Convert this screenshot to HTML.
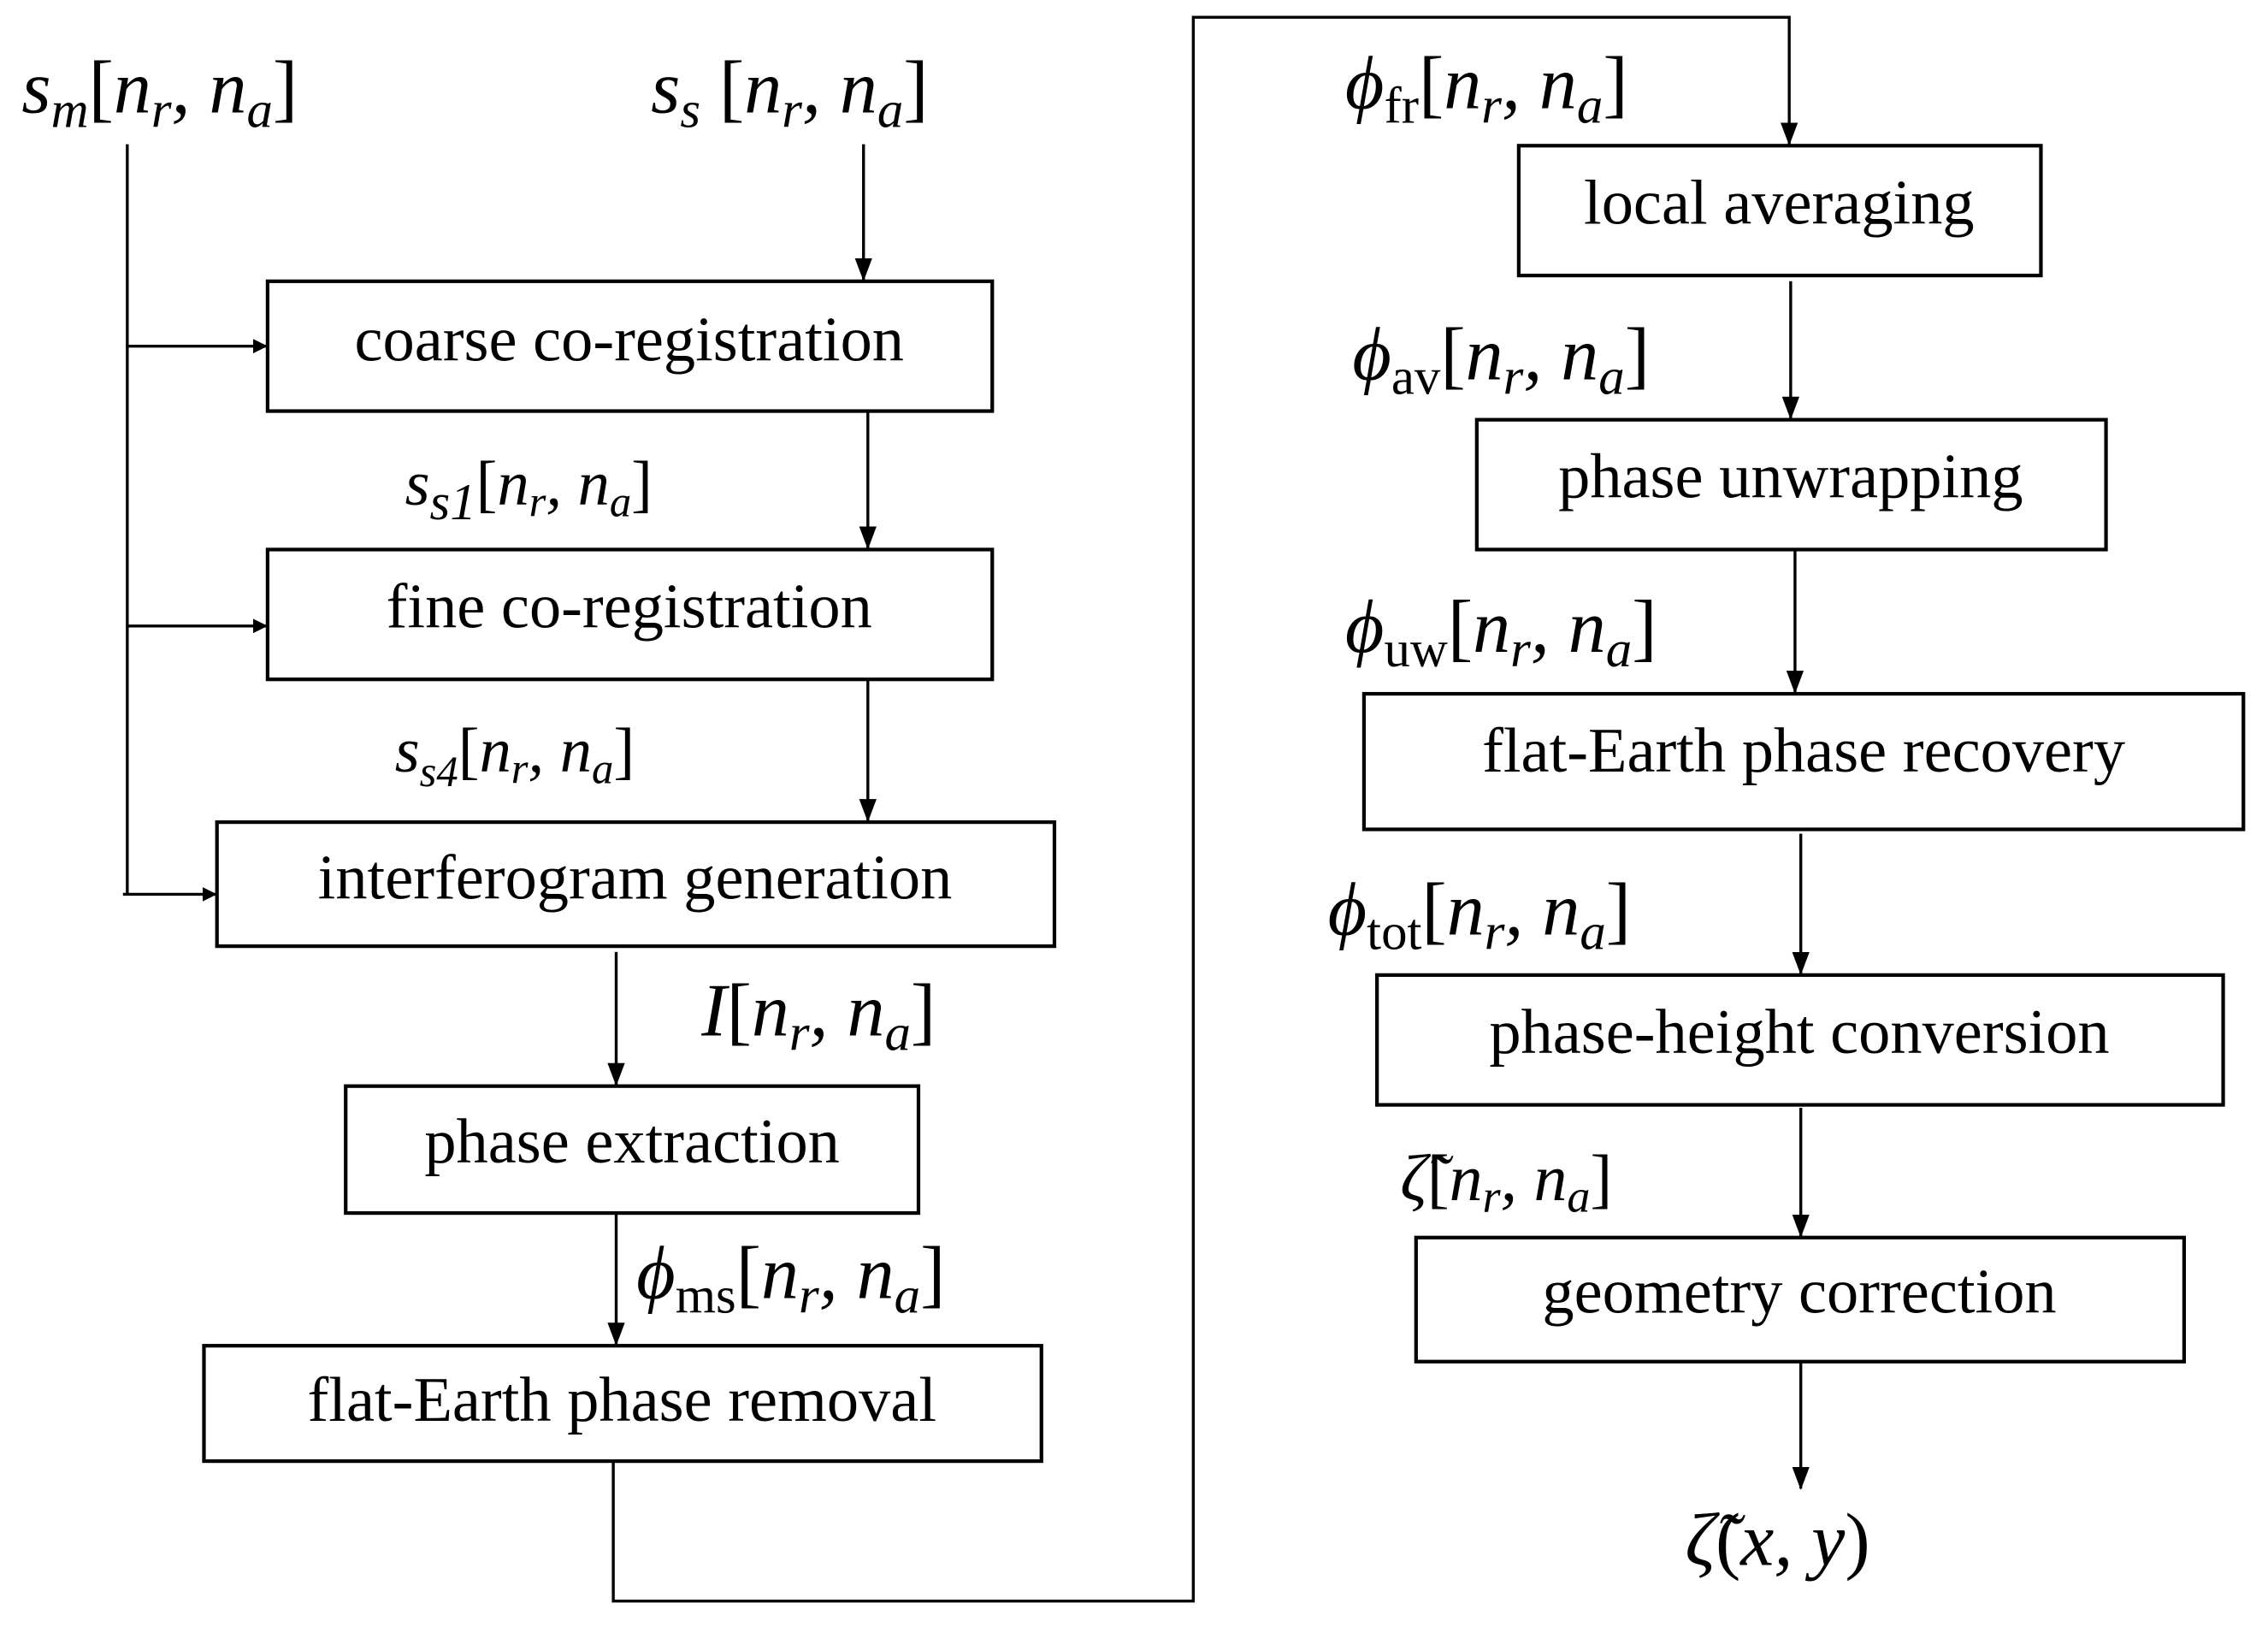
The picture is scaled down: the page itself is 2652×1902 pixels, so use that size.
<!DOCTYPE html>
<html><head><meta charset="utf-8"><style>
html,body{margin:0;padding:0;background:#fff}
svg{display:block}
.b{font-family:"Liberation Serif",serif;font-size:44px;fill:#000}
.m{font-family:"Liberation Serif",serif;font-style:italic;font-size:52px;fill:#000}
.s{font-size:36px}
</style></head><body>
<svg width="2652" height="1902" viewBox="0 0 1568 1128" preserveAspectRatio="none" xmlns="http://www.w3.org/2000/svg">
<defs><marker id="a" markerWidth="10" markerHeight="10" refX="9" refY="5" orient="auto" markerUnits="userSpaceOnUse"><path d="M0,0 L10,5 L0,10 z" fill="#000"/></marker>
<marker id="d" markerWidth="12" markerHeight="16" refX="6" refY="15" orient="0" markerUnits="userSpaceOnUse"><path d="M0,0 L12,0 L6,16 z" fill="#000"/></marker></defs>
<g fill="none" stroke="#000" stroke-width="2.5">
<rect x="185" y="195" width="501" height="90"/>
<rect x="185" y="381" width="501" height="90"/>
<rect x="150" y="570" width="579" height="86"/>
<rect x="239" y="753" width="396" height="88"/>
<rect x="141" y="933" width="579" height="80"/>
<rect x="1050" y="101" width="361" height="90"/>
<rect x="1021" y="291" width="435" height="90"/>
<rect x="943" y="481" width="608" height="94"/>
<rect x="952" y="676" width="585" height="90"/>
<rect x="979" y="858" width="531" height="86"/>
</g>
<g fill="none" stroke="#000" stroke-width="2">
<line x1="88" y1="100" x2="88" y2="620"/>
<line x1="88" y1="240" x2="184" y2="240" marker-end="url(#a)"/>
<line x1="88" y1="434" x2="184" y2="434" marker-end="url(#a)"/>
<line x1="85" y1="620" x2="149" y2="620" marker-end="url(#a)"/>
<line x1="597" y1="100" x2="597" y2="194" marker-end="url(#d)"/>
<line x1="600" y1="285" x2="600" y2="380" marker-end="url(#d)"/>
<line x1="600" y1="471" x2="600" y2="569" marker-end="url(#d)"/>
<line x1="426" y1="660" x2="426" y2="752" marker-end="url(#d)"/>
<line x1="426" y1="841" x2="426" y2="932" marker-end="url(#d)"/>
<polyline points="424,1013 424,1110 825,1110 825,12 1237,12 1237,100" marker-end="url(#d)"/>
<line x1="1238" y1="195" x2="1238" y2="290" marker-end="url(#d)"/>
<line x1="1241" y1="381" x2="1241" y2="480" marker-end="url(#d)"/>
<line x1="1245" y1="578" x2="1245" y2="675" marker-end="url(#d)"/>
<line x1="1245" y1="768" x2="1245" y2="857" marker-end="url(#d)"/>
<line x1="1245" y1="944" x2="1245" y2="1032" marker-end="url(#d)"/>
</g>
<g class="b" text-anchor="middle">
<text x="435" y="250">coarse co-registration</text>
<text x="435" y="435">fine co-registration</text>
<text x="439" y="623">interferogram generation</text>
<text x="437" y="806">phase extraction</text>
<text x="430" y="985">flat-Earth phase removal</text>
<text x="1230" y="155">local averaging</text>
<text x="1238" y="345">phase unwrapping</text>
<text x="1247" y="535">flat-Earth phase recovery</text>
<text x="1244" y="730">phase-height conversion</text>
<text x="1244" y="910">geometry correction</text>
</g>
<g class="m">
<text x="15" y="78">s<tspan class="s" dy="10">m</tspan><tspan dy="-10" font-style="normal">[</tspan>n<tspan class="s" dy="10">r</tspan><tspan dy="-10">, n</tspan><tspan class="s" dy="10">a</tspan><tspan dy="-10" font-style="normal">]</tspan></text>
<text x="450" y="78">s<tspan class="s" dy="10">s</tspan><tspan dy="-10" font-style="normal"> [</tspan>n<tspan class="s" dy="10">r</tspan><tspan dy="-10">, n</tspan><tspan class="s" dy="10">a</tspan><tspan dy="-10" font-style="normal">]</tspan></text>
<text x="280" y="350" font-size="44">s<tspan class="s" dy="10" font-size="30">s1</tspan><tspan dy="-10" font-style="normal">[</tspan>n<tspan dy="8" font-size="30">r</tspan><tspan dy="-8">, n</tspan><tspan dy="8" font-size="30">a</tspan><tspan dy="-8" font-style="normal">]</tspan></text>
<text x="273" y="535" font-size="44">s<tspan dy="10" font-size="30">s4</tspan><tspan dy="-10" font-style="normal">[</tspan>n<tspan dy="8" font-size="30">r</tspan><tspan dy="-8">, n</tspan><tspan dy="8" font-size="30">a</tspan><tspan dy="-8" font-style="normal">]</tspan></text>
<text x="485" y="718">I<tspan font-style="normal">[</tspan>n<tspan class="s" dy="10">r</tspan><tspan dy="-10">, n</tspan><tspan class="s" dy="10">a</tspan><tspan dy="-10" font-style="normal">]</tspan></text>
<text x="440" y="900">ϕ<tspan class="s" dy="10" font-style="normal">ms</tspan><tspan dy="-10" font-style="normal">[</tspan>n<tspan class="s" dy="10">r</tspan><tspan dy="-10">, n</tspan><tspan class="s" dy="10">a</tspan><tspan dy="-10" font-style="normal">]</tspan></text>
<text x="930" y="75">ϕ<tspan class="s" dy="10" font-style="normal">fr</tspan><tspan dy="-10" font-style="normal">[</tspan>n<tspan class="s" dy="10">r</tspan><tspan dy="-10">, n</tspan><tspan class="s" dy="10">a</tspan><tspan dy="-10" font-style="normal">]</tspan></text>
<text x="935" y="263">ϕ<tspan class="s" dy="10" font-style="normal">av</tspan><tspan dy="-10" font-style="normal">[</tspan>n<tspan class="s" dy="10">r</tspan><tspan dy="-10">, n</tspan><tspan class="s" dy="10">a</tspan><tspan dy="-10" font-style="normal">]</tspan></text>
<text x="930" y="452">ϕ<tspan class="s" dy="10" font-style="normal">uw</tspan><tspan dy="-10" font-style="normal">[</tspan>n<tspan class="s" dy="10">r</tspan><tspan dy="-10">, n</tspan><tspan class="s" dy="10">a</tspan><tspan dy="-10" font-style="normal">]</tspan></text>
<text x="918" y="648">ϕ<tspan class="s" dy="10" font-style="normal">tot</tspan><tspan dy="-10" font-style="normal">[</tspan>n<tspan class="s" dy="10">r</tspan><tspan dy="-10">, n</tspan><tspan class="s" dy="10">a</tspan><tspan dy="-10" font-style="normal">]</tspan></text>
<text x="968" y="832" font-size="46">ζ̃<tspan font-style="normal">[</tspan>n<tspan dy="8" font-size="32">r</tspan><tspan dy="-8">, n</tspan><tspan dy="8" font-size="32">a</tspan><tspan dy="-8" font-style="normal">]</tspan></text>
<text x="1165" y="1085">ζ̃<tspan font-style="normal">(</tspan>x, y<tspan font-style="normal">)</tspan></text>
</g>
</svg>
</body></html>
